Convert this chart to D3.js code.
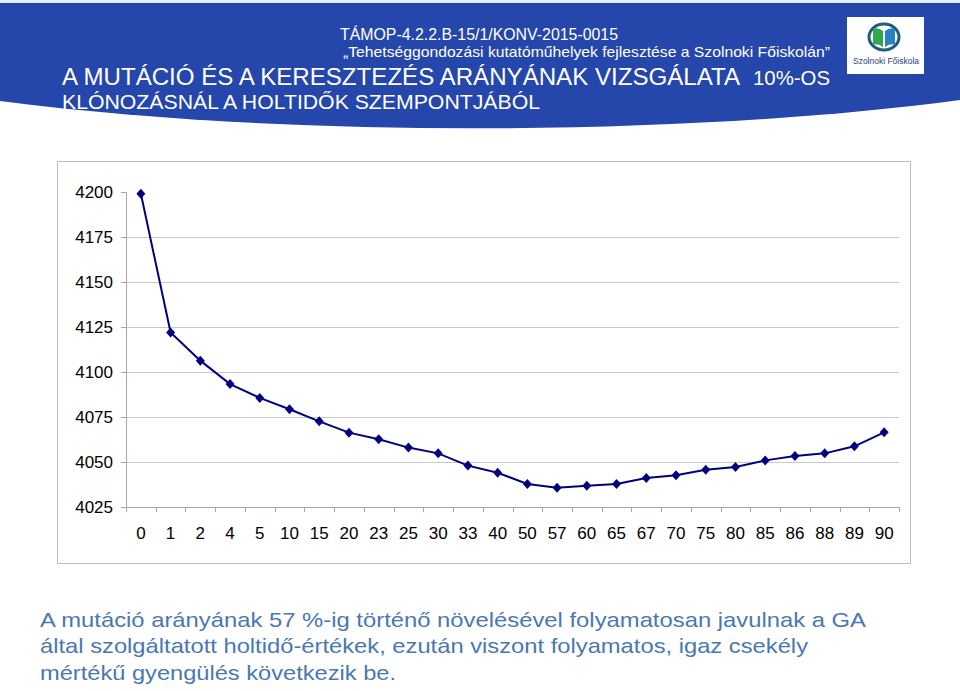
<!DOCTYPE html>
<html>
<head>
<meta charset="utf-8">
<script src="https://cdn.jsdelivr.net/npm/d3@7"></script>
<style>
  html, body { margin: 0; padding: 0; background: #fff; }
  svg { display: block; }
  text { font-family: "Liberation Sans", Arial, sans-serif; }
</style>
</head>
<body>
<svg id="chart" width="960" height="691"></svg>
<script>
// ---- data ----
const categories = ["0","1","2","4","5","10","15","20","23","25","30","33","40","50","57","60","65","67","70","75","80","85","86","88","89","90"];
const holtido = [4199, 4122, 4106.3, 4093.3, 4085.6, 4079.3, 4072.6, 4066.3, 4062.6, 4058, 4054.8, 4048, 4044, 4037.8, 4035.7, 4036.8, 4037.8, 4041.1, 4042.6, 4045.7, 4047.2, 4050.9, 4053.3, 4054.8, 4058.7, 4066.5];
const yTicks = [4025, 4050, 4075, 4100, 4125, 4150, 4175, 4200];
const headerLines = ["TÁMOP-4.2.2.B-15/1/KONV-2015-0015", "„Tehetséggondozási kutatóműhelyek fejlesztése a Szolnoki Főiskolán”"];
const titleLine1 = "A MUTÁCIÓ ÉS A KERESZTEZÉS ARÁNYÁNAK VIZSGÁLATA";
const titleLine1b = "10%-OS";
const titleLine2 = "KLÓNOZÁSNÁL A HOLTIDŐK SZEMPONTJÁBÓL";
const bodyLines = [
  "A mutáció arányának 57 %-ig történő növelésével folyamatosan javulnak a GA",
  "által szolgáltatott holtidő-értékek, ezután viszont folyamatos, igaz csekély",
  "mértékű gyengülés következik be."
];

const svg = d3.select("#chart");

// ---- header band ----
svg.append("rect").attr("x", 0).attr("y", 0).attr("width", 960).attr("height", 3).attr("fill", "#e8ecf4");
svg.append("path")
  .attr("d", "M0,3 L960,3 L960,100 C700,135 300,140 0,101 Z")
  .attr("fill", "#2546ab");

svg.append("text").attr("x", 340).attr("y", 40).attr("fill", "#fff")
  .attr("font-size", 16).attr("textLength", 278).attr("lengthAdjust", "spacingAndGlyphs")
  .text(headerLines[0]);
svg.append("text").attr("x", 343).attr("y", 57).attr("fill", "#fff")
  .attr("font-size", 15).attr("textLength", 487).attr("lengthAdjust", "spacingAndGlyphs")
  .text(headerLines[1]);
svg.append("text").attr("x", 62).attr("y", 85).attr("fill", "#fff")
  .attr("font-size", 23).attr("textLength", 678).attr("lengthAdjust", "spacingAndGlyphs")
  .text(titleLine1);
svg.append("text").attr("x", 753).attr("y", 85).attr("fill", "#fff")
  .attr("font-size", 20).attr("textLength", 77).attr("lengthAdjust", "spacingAndGlyphs")
  .text(titleLine1b);
svg.append("text").attr("x", 62).attr("y", 109).attr("fill", "#fff")
  .attr("font-size", 20.5).attr("textLength", 478).attr("lengthAdjust", "spacingAndGlyphs")
  .text(titleLine2);

// ---- logo ----
const logo = svg.append("g");
logo.append("rect").attr("x", 847).attr("y", 17).attr("width", 77).attr("height", 57).attr("fill", "#fff");
logo.append("ellipse").attr("cx", 884).attr("cy", 37).attr("rx", 15).attr("ry", 13)
  .attr("fill", "none").attr("stroke", "#1d5f7a").attr("stroke-width", 3);
logo.append("path").attr("d", "M873,29 Q878,27 883,31 L883,47 Q878,43 873,45 Z").attr("fill", "#2fa84f");
logo.append("path").attr("d", "M885,31 Q890,27 895,29 L895,45 Q890,43 885,47 Z").attr("fill", "#2c7fc0");
logo.append("text").attr("x", 886).attr("y", 64).attr("text-anchor", "middle")
  .attr("font-size", 8.5).attr("fill", "#1d3f7a")
  .attr("textLength", 66).attr("lengthAdjust", "spacingAndGlyphs").text("Szolnoki Főiskola");

// ---- chart frame ----
svg.append("rect").attr("x", 57.5).attr("y", 161.5).attr("width", 853).attr("height", 402)
  .attr("fill", "#fff").attr("stroke", "#bdbdbd").attr("stroke-width", 1);

const x = d3.scaleBand().domain(categories).range([126, 899]).paddingInner(0).paddingOuter(0);
const y = d3.scaleLinear().domain([4025, 4200]).range([507, 192]);

// gridlines (none at top)
svg.append("g").selectAll("line").data(yTicks.filter(t => t !== 4025 && t !== 4200)).join("line")
  .attr("x1", 126).attr("x2", 899)
  .attr("y1", d => Math.round(y(d)) + 0.5).attr("y2", d => Math.round(y(d)) + 0.5)
  .attr("stroke", "#c8c8c8").attr("stroke-width", 1);

// y axis
const yAxis = svg.append("g").attr("transform", "translate(126,0)")
  .call(d3.axisLeft(y).tickValues(yTicks).tickSize(5).tickPadding(8).tickFormat(d3.format("d")));
yAxis.select(".domain").attr("stroke", "#a8a8a8");
yAxis.selectAll(".tick line").attr("stroke", "#a8a8a8");
yAxis.selectAll("text").attr("font-size", 17).attr("fill", "#000")
  .attr("font-family", "'Liberation Sans', Arial, sans-serif");

// x axis (labels)
const xAxis = svg.append("g").attr("transform", "translate(0,507)")
  .call(d3.axisBottom(x).tickSize(0).tickPadding(20));
xAxis.select(".domain").attr("stroke", "#a8a8a8");
xAxis.selectAll("text").attr("font-size", 17).attr("fill", "#000")
  .attr("font-family", "'Liberation Sans', Arial, sans-serif");
// x tick marks at category boundaries
const bounds = categories.map(c => x(c)).concat([x.range()[1]]);
svg.append("g").selectAll("line").data(bounds).join("line")
  .attr("x1", d => Math.round(d) + 0.5).attr("x2", d => Math.round(d) + 0.5)
  .attr("y1", 507).attr("y2", 512).attr("stroke", "#a8a8a8");

// line
const pts = categories.map((c, i) => [x(c) + x.bandwidth() / 2, y(holtido[i])]);
svg.append("path").datum(pts)
  .attr("d", d3.line())
  .attr("fill", "none").attr("stroke", "#000080").attr("stroke-width", 2);

// diamond markers
svg.append("g").selectAll("path").data(pts).join("path")
  .attr("transform", d => `translate(${d[0]},${d[1]})`)
  .attr("d", "M0,-5 L4.5,0 L0,5 L-4.5,0 Z")
  .attr("fill", "#000080");

// ---- body text ----
const bodyWidths = [826, 768, 356];
const bodyY = [627, 653, 680];
bodyLines.forEach((t, i) => {
  svg.append("text").attr("x", 40).attr("y", bodyY[i])
    .attr("font-size", 21).attr("fill", "#4a78b2")
    .attr("textLength", bodyWidths[i]).attr("lengthAdjust", "spacingAndGlyphs")
    .text(t);
});
</script>
</body>
</html>
